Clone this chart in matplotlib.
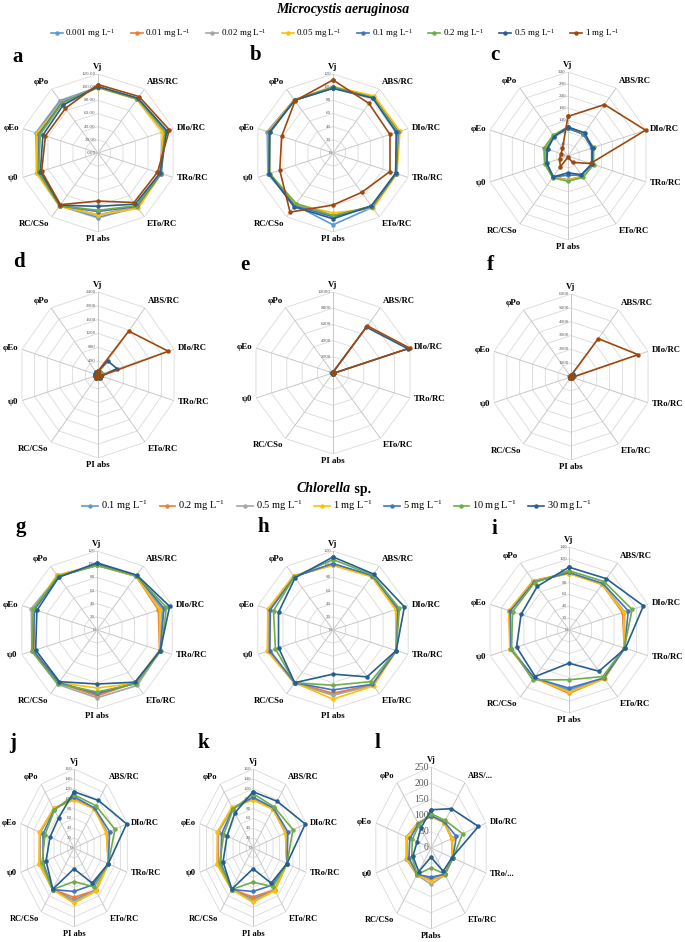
import matplotlib
matplotlib.use('Agg')
import matplotlib.pyplot as plt
import numpy as np
from matplotlib.lines import Line2D

plt.rcParams['font.family'] = ['Liberation Serif', 'DejaVu Serif']
plt.rcParams['mathtext.fontset'] = 'custom'
plt.rcParams['mathtext.rm'] = 'Liberation Serif'
plt.rcParams['mathtext.it'] = 'Liberation Serif:italic'
plt.rcParams['mathtext.bf'] = 'Liberation Serif:bold'

# ---------------- data ----------------
variables = ["Vj", "ABS/RC", "DIo/RC", "TRo/RC", "ETo/RC", "PI abs", "RC/CSo", "ψ0", "φEo", "φPo"]
variables_l = ["Vj", "ABS/...", "DIo/RC", "TRo/...", "ETo/RC", "PIabs", "RC/CSo", "ψ0", "φEo", "φPo"]

micro_labels = ["0.001 mg L$^{-1}$", "0.01 mg L$^{-1}$", "0.02 mg L$^{-1}$", "0.05 mg L$^{-1}$",
                "0.1 mg L$^{-1}$", "0.2 mg L$^{-1}$", "0.5 mg L$^{-1}$", "1 mg L$^{-1}$"]
micro_colors = ["#5B9BD5", "#ED7D31", "#A5A5A5", "#FFC000", "#4472C4", "#70AD47", "#255E91", "#9E480E"]
chlor_labels = ["0.1 mg L$^{-1}$", "0.2 mg L$^{-1}$", "0.5 mg L$^{-1}$", "1 mg L$^{-1}$",
                "5 mg L$^{-1}$", "10 mg L$^{-1}$", "30 mg L$^{-1}$"]
chlor_colors = ["#5B9BD5", "#ED7D31", "#A5A5A5", "#FFC000", "#4472C4", "#70AD47", "#255E91"]

# Microcystis aeruginosa panels (rows = concentrations, cols = variables)
panel_a = [[100, 101, 104, 100, 102, 98, 99, 97, 99, 98],
           [100, 101, 104, 99, 101, 94, 99, 96, 96, 96],
           [101, 102, 106, 99, 100, 95, 99, 96, 97, 96],
           [99, 101, 103, 101, 104, 94, 100, 98, 98, 94],
           [100, 102, 108, 101, 100, 89, 99, 95, 94, 94],
           [100, 102, 107, 100, 99, 87, 99, 95, 92, 93],
           [101, 103, 110, 99, 96, 81, 98, 92, 88, 90],
           [104, 106, 114, 95, 93, 73, 97, 90, 84, 84]]
panel_b = [[99, 104, 104, 101, 102, 109, 98, 104, 105, 100],
           [100, 103, 103, 100, 101, 96, 96, 103, 104, 100],
           [100, 104, 104, 101, 101, 95, 96, 102, 103, 99],
           [101, 107, 107, 102, 104, 91, 96, 103, 103, 100],
           [100, 104, 104, 101, 101, 97, 99, 102, 102, 99],
           [99, 104, 103, 100, 100, 95, 95, 101, 101, 99],
           [98, 103, 101, 100, 99, 100, 101, 102, 101, 99],
           [111, 93, 91, 91, 74, 79, 111, 85, 82, 98]]
panel_c = [[108, 104, 100, 100, 95, 90, 98, 90, 92, 94],
           [107, 103, 99, 99, 94, 92, 97, 89, 91, 93],
           [106, 102, 99, 99, 94, 91, 97, 89, 91, 93],
           [107, 103, 100, 100, 95, 92, 98, 90, 92, 94],
           [105, 102, 97, 97, 88, 70, 98, 87, 86, 92],
           [112, 106, 105, 105, 100, 95, 102, 95, 98, 97],
           [110, 110, 100, 98, 86, 60, 98, 85, 82, 90],
           [155, 255, 338, 91, 23, -5, 45, 28, 21, 30]]
panel_d = [[100, 104, 108, 100, 96, 92, 100, 96, 95, 97],
           [100, 103, 106, 100, 95, 90, 99, 95, 94, 96],
           [101, 104, 107, 100, 95, 91, 99, 95, 94, 96],
           [99, 103, 105, 101, 97, 90, 100, 97, 96, 95],
           [100, 105, 112, 100, 94, 85, 99, 94, 92, 95],
           [102, 108, 118, 102, 98, 95, 101, 97, 97, 98],
           [100, 500, 600, 100, 90, 50, 100, 90, 85, 95],
           [110, 1570, 2220, 90, 60, 0, 100, 50, 40, 60]]
panel_e = [[100, 104, 108, 100, 96, 92, 100, 96, 95, 97],
           [100, 103, 106, 100, 95, 90, 99, 95, 94, 96],
           [101, 104, 107, 100, 95, 91, 99, 95, 94, 96],
           [99, 103, 105, 101, 97, 90, 100, 97, 96, 95],
           [100, 110, 120, 100, 94, 85, 99, 94, 92, 95],
           [102, 115, 130, 102, 98, 90, 101, 97, 97, 98],
           [100, 7000, 9700, 100, 80, 20, 100, 80, 70, 90],
           [100, 7200, 9950, 90, 50, 0, 100, 50, 40, 60]]
panel_f = [[100, 104, 108, 100, 96, 92, 100, 96, 95, 97],
           [100, 103, 106, 100, 95, 90, 99, 95, 94, 96],
           [101, 104, 107, 100, 95, 91, 99, 95, 94, 96],
           [99, 103, 105, 101, 97, 90, 100, 97, 96, 95],
           [100, 110, 120, 100, 94, 85, 99, 94, 92, 95],
           [102, 115, 130, 102, 98, 90, 101, 97, 97, 98],
           [100, 300, 250, 100, 90, 40, 100, 90, 85, 95],
           [110, 3430, 5230, 90, 50, 0, 100, 50, 40, 60]]

# Chlorella sp. panels
panel_g = [[99, 101, 105, 101, 99, 98, 99, 102, 101, 100],
           [98, 101, 98, 100, 99, 100, 99, 101, 100, 103],
           [98, 101, 103, 101, 104, 103, 102, 104, 105, 101],
           [99, 101, 100, 100, 100, 88, 99, 103, 101, 103],
           [100, 102, 107, 101, 100, 96, 99, 102, 100, 100],
           [98, 102, 111, 102, 101, 94, 101, 104, 102, 101],
           [102, 103, 116, 101, 98, 82, 97, 98, 96, 99]]
panel_h = [[100, 101, 102, 101, 103, 97, 99, 103, 102, 101],
           [99, 101, 102, 101, 103, 96, 99, 103, 103, 101],
           [100, 101, 103, 101, 104, 99, 100, 104, 103, 101],
           [98, 100, 100, 101, 105, 105, 99, 105, 104, 102],
           [101, 102, 104, 101, 102, 91, 99, 101, 100, 100],
           [107, 103, 106, 101, 97, 84, 99, 92, 95, 100],
           [111, 105, 114, 101, 88, 67, 99, 87, 87, 98]]
panel_i = [[96, 96, 98, 98, 101, 101, 100, 104, 106, 101],
           [96, 95, 95, 98, 101, 107, 100, 104, 106, 103],
           [96, 96, 98, 98, 101, 104, 100, 104, 105, 101],
           [95, 95, 97, 98, 102, 105, 100, 105, 107, 102],
           [97, 97, 105, 99, 100, 98, 100, 103, 104, 100],
           [100, 101, 112, 98, 97, 84, 104, 102, 100, 99],
           [106, 107, 132, 100, 86, 56, 97, 93, 85, 91]]
panel_j = [[101, 99, 99, 103, 105, 105, 104, 103, 102, 98],
           [99, 99, 99, 103, 106, 100, 104, 103, 102, 99],
           [100, 99, 100, 103, 106, 109, 104, 104, 103, 98],
           [97, 98, 97, 103, 108, 112, 104, 105, 104, 99],
           [104, 100, 107, 103, 92, 88, 104, 93, 93, 96],
           [108, 106, 123, 103, 97, 68, 104, 96, 87, 95],
           [114, 119, 158, 103, 88, 42, 103, 84, 72, 75]]
panel_k = [[100, 98, 98, 102, 105, 103, 104, 106, 105, 101],
           [99, 98, 98, 102, 105, 99, 104, 105, 105, 101],
           [100, 98, 99, 102, 106, 107, 104, 107, 106, 100],
           [97, 97, 97, 102, 107, 110, 104, 108, 107, 102],
           [103, 100, 105, 102, 93, 88, 104, 97, 94, 98],
           [110, 103, 120, 102, 97, 69, 104, 100, 88, 97],
           [114, 117, 157, 102, 88, 42, 103, 90, 78, 88]]
panel_l = [[98, 97, 95, 98, 101, 95, 102, 110, 110, 95],
           [98, 97, 93, 98, 101, 100, 102, 110, 110, 96],
           [99, 98, 96, 99, 103, 112, 103, 112, 111, 94],
           [97, 96, 94, 98, 102, 102, 102, 110, 110, 96],
           [100, 99, 115, 99, 100, 90, 101, 100, 96, 92],
           [106, 105, 143, 100, 99, 61, 101, 87, 85, 88],
           [118, 150, 215, 95, 89, 28, 90, 82, 63, 75]]

# ---------------- drawing ----------------
W, H = 685, 942
fig = plt.figure(figsize=(W / 100, H / 100), dpi=100)
fig.patch.set_facecolor('white')


def radar(cx, cy, R, Rh, vals, colors, rmin, rmax, step, cats, fmt,
          tsize=3.6, lsize=6.3, tcolor='#595959'):
    ax = fig.add_axes([(cx - Rh) / W, (H - cy - R) / H, 2 * Rh / W, 2 * R / H],
                      projection='polar')
    ax.set_aspect('auto')
    ax.set_theta_zero_location('N')
    ax.set_theta_direction(-1)
    n = len(cats)
    theta = np.linspace(0, 2 * np.pi, n, endpoint=False)
    tc = np.append(theta, theta[0])
    ax.set_ylim(rmin, rmax)
    ax.set_xticks(theta)
    ax.set_xticklabels([])
    ax.set_yticks([])
    ax.xaxis.grid(True, color='#c8c8c8', lw=0.7)
    ax.spines['polar'].set_visible(False)
    ax.patch.set_alpha(0)
    ticks = np.arange(rmin, rmax + step / 2, step)
    for t in ticks[1:]:
        ax.plot(tc, [t] * len(tc), color='#dadada', lw=0.6, zorder=1)
    for t in ticks:
        ax.annotate(fmt(t), xy=(0, t), xytext=(-1.5, 0), textcoords='offset points',
                    ha='right', va='center', fontsize=tsize, color=tcolor, zorder=2)
    for row, col in zip(vals, colors):
        ax.plot(tc, list(row) + [row[0]], color=col, lw=1.2, marker='o', ms=2.2,
                zorder=3, clip_on=False)
    for th, lab in zip(theta, cats):
        s, c = np.sin(th), np.cos(th)
        if abs(s) < 0.01:
            ha = 'center'
        elif s > 0:
            ha = 'left'
        else:
            ha = 'right'
        if c > 0.5:
            va = 'bottom'
        elif c < -0.5:
            va = 'top'
        else:
            va = 'center'
        ax.annotate(lab, xy=(th, rmax), xytext=(3 * s, 2.5 * c), textcoords='offset points',
                    ha=ha, va=va, fontsize=lsize, fontweight='bold', color='black',
                    annotation_clip=False)
    return ax


fint = lambda t: f"{int(round(t))}"
f2 = lambda t: f"{t:.2f}"

radar(98, 153, 79, 79, panel_a, micro_colors, 0, 120, 20, variables, f2)
radar(333, 153, 79, 79, panel_b, micro_colors, 0, 120, 20, variables, fint)
radar(568, 156, 84, 82, panel_c, micro_colors, -10, 340, 50, variables, fint)
radar(98, 375, 83, 80, panel_d, micro_colors, 0, 2400, 400, variables, fint)
radar(333, 373, 81, 81, panel_e, micro_colors, 0, 10000, 2000, variables, fint)
radar(571, 377, 83, 81, panel_f, micro_colors, 0, 6000, 1000, variables, fint)
radar(97, 630, 79, 79, panel_g, chlor_colors, 0, 120, 20, variables, fint)
radar(333, 630, 79, 79, panel_h, chlor_colors, 0, 120, 20, variables, fint)
radar(569, 630, 83, 83, panel_i, chlor_colors, 0, 140, 20, variables, fint)
radar(74, 848, 79, 56, panel_j, chlor_colors, 0, 160, 20, variables, fint, lsize=6)
radar(253, 848, 79, 56, panel_k, chlor_colors, 0, 160, 20, variables, fint, lsize=6)
radar(431, 848, 81, 58, panel_l, chlor_colors, 0, 250, 50, variables_l, fint,
      tsize=7, lsize=6)

# panel letters
letters = [("a", 12, 57), ("b", 250, 55), ("c", 490, 55),
           ("d", 13, 262), ("e", 240, 265), ("f", 487, 265),
           ("g", 15, 527), ("h", 257, 527), ("i", 492, 529),
           ("j", 9, 743), ("k", 197, 743), ("l", 375, 743)]
for t, x, y in letters:
    fig.text(x / W, 1 - y / H, t, fontsize=15, fontweight='bold', ha='left', va='center')

# titles
fig.text(343 / W, 1 - 9 / H, "Microcystis aeruginosa", fontsize=10, fontweight='bold',
         style='italic', ha='center', va='center')
fig.text(351 / W, 1 - 489 / H, "Chlorella", fontsize=10, fontweight='bold',
         style='italic', ha='right', va='center')
fig.text(351 / W, 1 - 489 / H, " sp.", fontsize=10, fontweight='bold',
         ha='left', va='center')

# legends
h1 = [Line2D([], [], color=c, lw=1.2, marker='o', ms=2.2) for c in micro_colors]
fig.legend(h1, micro_labels, loc='center', bbox_to_anchor=(335 / W, 1 - 34 / H), ncol=8,
           frameon=False, fontsize=6.5, handlelength=1.3, handletextpad=0.3,
           columnspacing=1.7)
h2 = [Line2D([], [], color=c, lw=1.2, marker='o', ms=2.2) for c in chlor_colors]
fig.legend(h2, chlor_labels, loc='center', bbox_to_anchor=(337 / W, 1 - 506 / H), ncol=7,
           frameon=False, fontsize=7.5, handlelength=1.5, handletextpad=0.3,
           columnspacing=1.1)

fig.savefig("out.png", dpi=100)
